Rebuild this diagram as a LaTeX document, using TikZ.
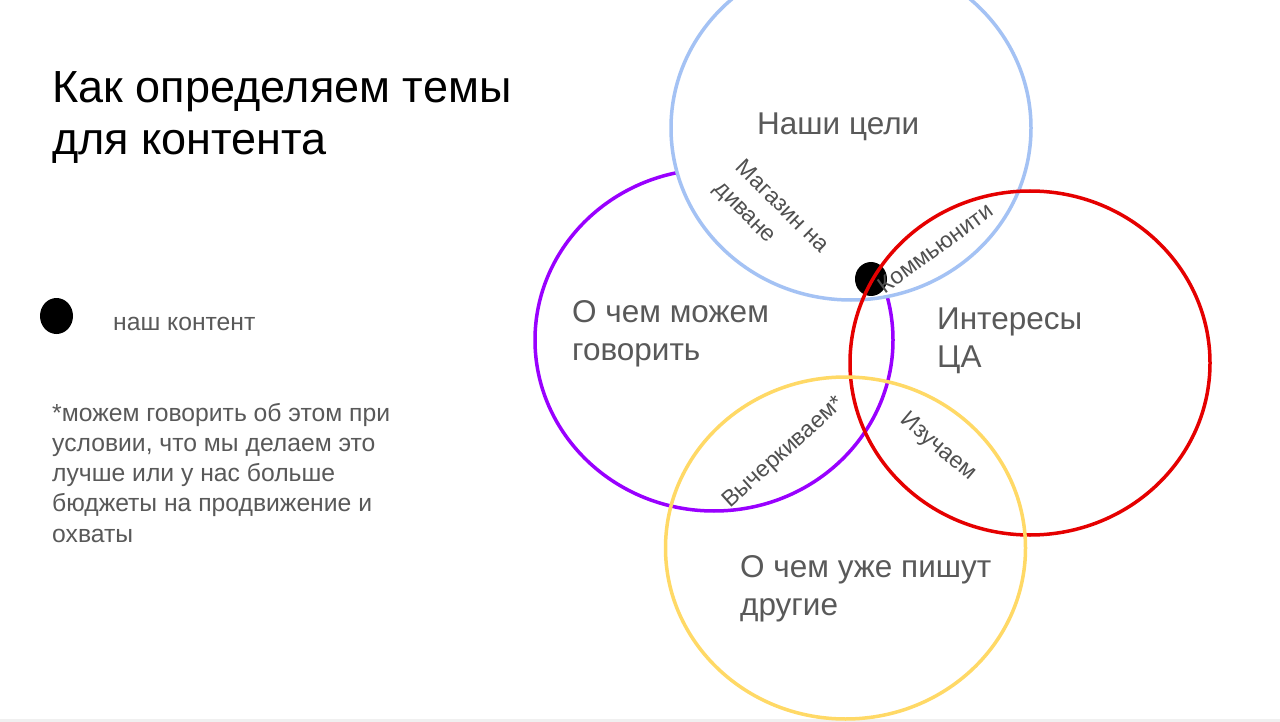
\documentclass[tikz,border=0pt]{standalone}
\usepackage{fontspec}
\setmainfont{Liberation Sans}
\definecolor{cblue}{HTML}{A4C2F4}
\definecolor{cpurple}{HTML}{9900FF}
\definecolor{cred}{HTML}{E50000}
\definecolor{cyellow}{HTML}{FFD966}
\definecolor{tgray}{HTML}{595959}
\tikzset{
  ring/.style={line width=3.5pt},
  title/.style={inner sep=0pt, anchor=base west, align=left, font=\fontsize{45}{52}\selectfont, text=black},
  lab/.style={inner sep=0pt, anchor=base west, align=left, font=\fontsize{31.5}{38}\selectfont, text=tgray},
  small/.style={inner sep=0pt, anchor=base west, align=left, font=\fontsize{24.7}{30.2}\selectfont, text=tgray},
  rot/.style={inner sep=0pt, align=left, font=\fontsize{23}{30}\selectfont, text=tgray!90!black},
}
\begin{document}
\begin{tikzpicture}[x=1pt,y=-1pt]
\useasboundingbox (0,0) rectangle (1280,722);
\clip (0,0) rectangle (1280,722);
\fill[white] (0,0) rectangle (1280,722);
\fill[gray!12] (0,719) rectangle (1280,722);
% circles
\draw[ring, cpurple] (714,340) ellipse [x radius=179, y radius=171];
\draw[ring, cblue, fill=white] (851,128) ellipse [x radius=180, y radius=172];
\fill[black] (871,279) ellipse [x radius=16, y radius=17];
\draw[ring, cred] (1030,363) ellipse [x radius=180, y radius=172];
\draw[ring, cyellow] (845.5,548) ellipse [x radius=180, y radius=171];
% title (base anchor = last line)
\node[title] (title) at (52,155) {Как определяем темы\\для контента};
% legend
\fill[black] (56.5,316) ellipse [x radius=16.5, y radius=18];
\node[small] (leg) at (113,330) {наш контент};
\node[small] (note) at (52,542) {*можем говорить об этом при\\условии, что мы делаем это\\лучше или у нас больше\\бюджеты на продвижение и\\охваты};
% circle labels
\node[lab] (goals) at (757,135) {Наши цели};
\node[lab] (can) at (572,360) {О чем можем\\говорить};
\node[lab] (ca) at (937,367) {Интересы\\ЦА};
\node[lab] (others) at (740,615) {О чем уже пишут\\другие};
% intersection labels
\node[rot, rotate=-45] (shop) at (771,218) {Магазин на\\диване};
\node[rot, rotate=36] (comm) at (935,248) {Коммьюнити};
\node[rot, rotate=42] (cross) at (784,453) {Вычеркиваем*};
\node[rot, rotate=-40] (study) at (938,447) {Изучаем};
\end{tikzpicture}
\end{document}
